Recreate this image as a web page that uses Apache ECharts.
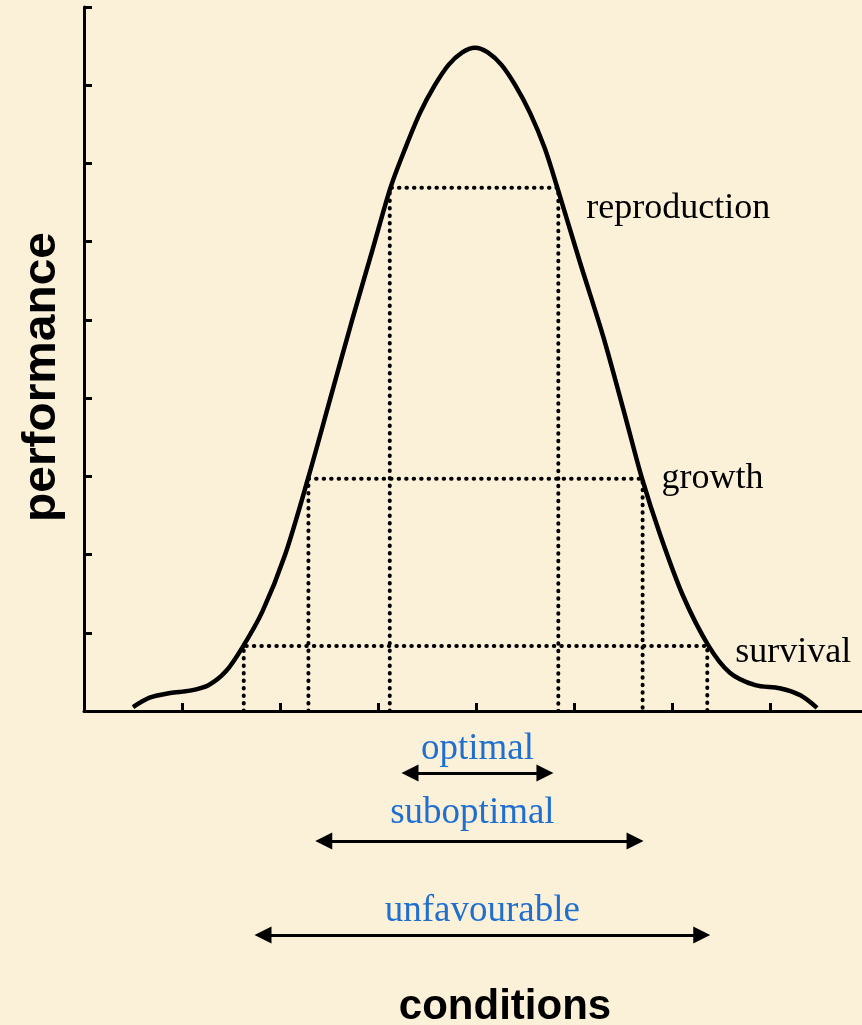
<!DOCTYPE html>
<html><head><meta charset="utf-8">
<script src="https://cdn.jsdelivr.net/npm/echarts@6/dist/echarts.min.js"></script>
<style>html,body{margin:0;padding:0;background:#fbf0d8}#c{width:862px;height:1025px}</style>
</head><body><div id="c"></div>
<script>
// performance curve along the conditions axis
const curveX = [0.50,0.67,0.88,1.08,1.27,1.45,1.62,1.82,2.05,2.29,2.51,2.73,2.94,3.13,3.28,3.43,3.58,3.72,3.86,3.99,4.12,4.26,4.40,4.55,4.70,4.83,5.06,5.30,5.52,5.69,5.88,6.11,6.37,6.59,6.85,7.10,7.31,7.48];
const curveY = [0.05,0.17,0.23,0.26,0.33,0.51,0.82,1.27,1.99,2.99,3.98,4.97,5.88,6.70,7.20,7.65,8.00,8.26,8.42,8.48,8.42,8.26,8.00,7.65,7.20,6.69,5.74,4.78,3.78,2.99,2.25,1.48,0.84,0.49,0.33,0.29,0.20,0.04];
// performance levels
const levelNames = ['reproduction','growth','survival'];
const levelY = [6.69, 2.97, 0.83];
const levelLeftX = [3.12, 2.29, 1.63];
const levelRightX = [4.84, 5.70, 6.36];
// condition ranges
const rangeNames = ['optimal','suboptimal','unfavourable'];
const rangeFrom = [3.24, 2.36, 1.74];
const rangeTo = [4.79, 5.71, 6.39];

const chart = echarts.init(document.getElementById('c'), null, {renderer:'canvas'});
const GL = 84, GW = 784, XMAX = 8;
const pxPerUnit = GW / XMAX;
const headLen = 17;
const inset = (headLen/2) / pxPerUnit;
const labelOffsets = [[28,21],[19,0],[28,6]];
const arrowRows = [62,130,224];
const arrowLabelDist = [5,9,5];
const arrowLabelShift = [0,-7,0];

const axisStyle = {color:'#000', width:3};
const series = [];
series.push({
  type:'line', xAxisIndex:0, yAxisIndex:0, z:3,
  data: curveX.map((x,i)=>[x, curveY[i]]),
  smooth:0.3, symbol:'none', silent:true,
  lineStyle:{color:'#000', width:4.5}
});
levelNames.forEach((n,i)=>{
  series.push({
    type:'line', xAxisIndex:0, yAxisIndex:0, z:2, symbol:'none', silent:true,
    data:[[levelLeftX[i],0],[levelLeftX[i],levelY[i]],[levelRightX[i],levelY[i]],[levelRightX[i],0]],
    lineStyle:{color:'#000', width:4, type:[0.5,7], cap:'round'}
  });
});
series.push({
  type:'scatter', xAxisIndex:0, yAxisIndex:0, symbolSize:0, silent:true,
  data: levelNames.map((n,i)=>({
    value:[levelRightX[i], levelY[i]], name:n,
    label:{show:true, position:'right', distance:0, offset:labelOffsets[i], formatter:'{b}',
      color:'#000', opacity:1, textBorderWidth:0, fontFamily:'Liberation Serif', fontSize:36}
  }))
});
series.push({
  type:'line', xAxisIndex:1, yAxisIndex:1, data:[], symbol:'none', silent:true,
  markLine:{
    silent:true, animation:false,
    symbol:['triangle','triangle'], symbolSize:[17,17],
    lineStyle:{color:'#000', width:3, type:'solid', opacity:1},
    emphasis:{disabled:true},
    data: rangeNames.map((n,i)=>[
      {name:n, coord:[rangeFrom[i]+inset, arrowRows[i]],
       label:{show:true, position:'middle', formatter:'{b}', distance:arrowLabelDist[i], offset:[arrowLabelShift[i],0],
         color:'#1f6fd1', fontFamily:'Liberation Serif', fontSize:37}},
      {coord:[rangeTo[i]-inset, arrowRows[i]]}
    ])
  }
});

chart.setOption({
  animation:false,
  backgroundColor:'#fbf0d8',
  grid:[
    {left:GL, top:7, width:GW, height:704, outerBoundsMode:'none'},
    {left:GL, top:711, width:GW, height:314, outerBoundsMode:'none'}
  ],
  xAxis:[
    {gridIndex:0, type:'value', min:0, max:XMAX, interval:1,
     axisLine:{show:true, onZero:false, lineStyle:axisStyle},
     axisTick:{show:true, inside:true, length:8, lineStyle:axisStyle},
     axisLabel:{show:false}, splitLine:{show:false}},
    {gridIndex:1, type:'value', min:0, max:XMAX, show:false}
  ],
  yAxis:[
    {gridIndex:0, type:'value', min:0, max:9, interval:1,
     axisLine:{show:true, onZero:false, lineStyle:axisStyle},
     axisTick:{show:true, inside:true, length:8, lineStyle:axisStyle},
     axisLabel:{show:false}, splitLine:{show:false}},
    {gridIndex:1, type:'value', min:0, max:314, inverse:true, show:false}
  ],
  graphic:[
    {type:'text', x:42, y:377, rotation:Math.PI/2, scaleX:1.04,
     style:{text:'performance', fill:'#000', font:'bold 46px "Liberation Sans", Arial, sans-serif', align:'center', verticalAlign:'middle'}},
    {type:'text', x:505, y:1007,
     style:{text:'conditions', fill:'#000', font:'bold 42px "Liberation Sans", Arial, sans-serif', align:'center', verticalAlign:'middle'}}
  ],
  series:series
});
</script></body></html>
